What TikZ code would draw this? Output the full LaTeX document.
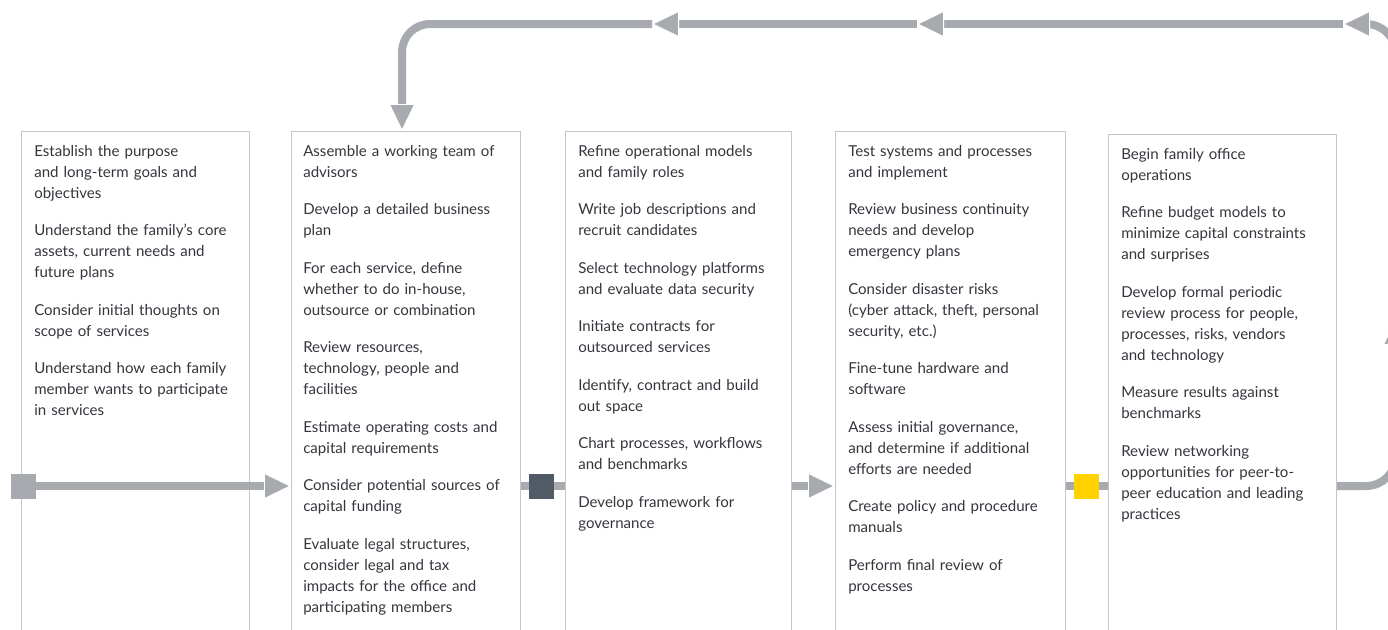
\documentclass[tikz,border=0pt]{standalone}
\usepackage{fontspec}
\setmainfont{Lato}
\usepackage{xcolor}
\usetikzlibrary{arrows.meta,positioning}
\definecolor{flowgray}{HTML}{A7ABB0}
\definecolor{panelgray}{HTML}{C4C7CB}
\definecolor{darkstep}{HTML}{505B66}
\definecolor{goldstep}{HTML}{FFD200}
\definecolor{inkgray}{HTML}{35353D}

\begin{document}
\begin{tikzpicture}[x=0.75pt,y=0.75pt,yscale=-1,xscale=1,
    flowtip/.tip={Triangle[length=20.25pt,width=19.5pt,fill=flowgray,color=white,line width=0.6pt]},
    flow/.style={draw=flowgray,line width=6pt},
    panel/.style={draw=panelgray,line width=0.8pt,anchor=north west,inner sep=0pt,minimum height=390pt},
    itemtext/.style={anchor=base west,inner sep=0pt,text width=170pt,align=left,text=inkgray,font=\fontsize{11.3}{15.8}\selectfont},
    marker/.style={minimum size=18.75pt,inner sep=0pt}]
    \useasboundingbox (0,0) rectangle (1388,629);
    \clip (0,0) rectangle (1388,629);

    %Shape: Panels
    \node[panel,minimum width=171pt] (p1) at (21,131) {};
    \node[panel,minimum width=171.75pt] (p2) at (291,131) {};
    \node[panel,minimum width=169.5pt] (p3) at (565,131) {};
    \node[panel,minimum width=172.5pt] (p4) at (835,131) {};
    \node[panel,minimum width=171pt] (p5) at (1108,134) {};

    % Text Node
    \node[itemtext] (t1) at (34,156) {Establish the purpose\\ and long-term goals and\\ objectives\\[12.3pt]
      Understand the family’s core\\ assets, current needs and\\ future plans\\[12.3pt]
      Consider initial thoughts on\\ scope of services\\[12.3pt]
      Understand how each family\\ member wants to participate\\ in services};
    % Text Node
    \node[itemtext] (t2) at (303,156) {Assemble a working team of\\ advisors\\[12.3pt]
      Develop a detailed business\\ plan\\[12.3pt]
      For each service, define\\ whether to do in-house,\\ outsource or combination\\[12.3pt]
      Review resources,\\ technology, people and\\ facilities\\[12.3pt]
      Estimate operating costs and\\ capital requirements\\[12.3pt]
      Consider potential sources of\\ capital funding\\[12.3pt]
      Evaluate legal structures,\\ consider legal and tax\\ impacts for the office and\\ participating members};
    % Text Node
    \node[itemtext] (t3) at (578,156) {Refine operational models\\ and family roles\\[12.3pt]
      Write job descriptions and\\ recruit candidates\\[12.3pt]
      Select technology platforms\\ and evaluate data security\\[12.3pt]
      Initiate contracts for\\ outsourced services\\[12.3pt]
      Identify, contract and build\\ out space\\[12.3pt]
      Chart processes, workflows\\ and benchmarks\\[12.3pt]
      Develop framework for\\ governance};
    % Text Node
    \node[itemtext] (t4) at (848,156) {Test systems and processes\\ and implement\\[12.3pt]
      Review business continuity\\ needs and develop\\ emergency plans\\[12.3pt]
      Consider disaster risks\\ (cyber attack, theft, personal\\ security, etc.)\\[12.3pt]
      Fine-tune hardware and\\ software\\[12.3pt]
      Assess initial governance,\\ and determine if additional\\ efforts are needed\\[12.3pt]
      Create policy and procedure\\ manuals\\[12.3pt]
      Perform final review of\\ processes};
    % Text Node
    \node[itemtext] (t5) at (1121,159) {Begin family office\\ operations\\[12.3pt]
      Refine budget models to\\ minimize capital constraints\\ and surprises\\[12.3pt]
      Develop formal periodic\\ review process for people,\\ processes, risks, vendors\\ and technology\\[12.3pt]
      Measure results against\\ benchmarks\\[12.3pt]
      Review networking\\ opportunities for peer-to-\\ peer education and leading\\ practices};

    %Shape: Step markers
    \node[marker,fill=flowgray] (s1) at (23.5,486) {};
    \node[marker,fill=darkstep] (s2) at (541.5,486) {};
    \node[marker,fill=goldstep] (s3) at (1086.5,486) {};

    %Return loop points
    \coordinate (r1) at (1396,318);
    \coordinate (r2) at (1343,24);
    \coordinate (r3) at (917,24);
    \coordinate (r4) at (652,24);

    %Straight Lines
    \draw[flow,-{flowtip}] (s1) -- (s1 -| p2.west);
    \draw[flow] (p2.east |- s2) -- (s2);
    \draw[flow] (s2) -- (s2 -| p3.west);
    \draw[flow,-{flowtip}] (p3.east |- s2) -- (p4.west |- s2);
    \draw[flow] (p4.east |- s3) -- (s3);
    \draw[flow] (s3) -- (s3 -| p5.west);
    \node[marker,fill=flowgray] at (s1) {};
    \node[marker,fill=darkstep] at (s2) {};
    \node[marker,fill=goldstep] at (s3) {};

    %Curve Lines
    \draw[flow,rounded corners=22.5pt,-{flowtip}] (p5.east |- s3) -| (r1);
    \draw[flow,rounded corners=22.5pt,-{flowtip}] (r1) |- (r2);
    \draw[flow,-{flowtip}] (r2) -- (r3);
    \draw[flow,-{flowtip}] (r3) -- (r4);
    \draw[flow,rounded corners=21pt,-{flowtip}] (r4) -| ([xshift=-3pt]p2.north);

\end{tikzpicture}
\end{document}
